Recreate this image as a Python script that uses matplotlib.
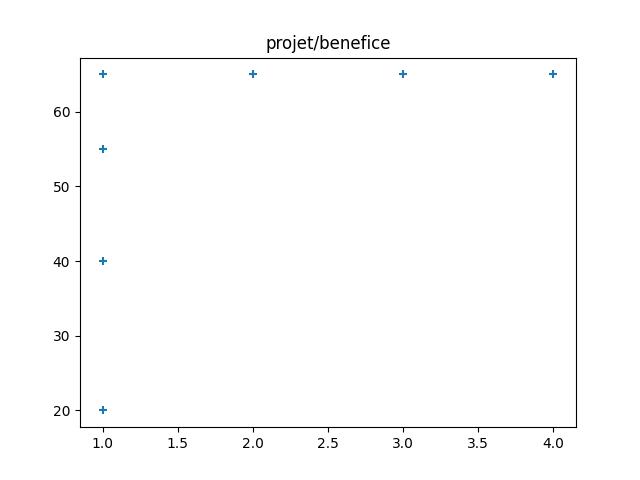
import matplotlib
matplotlib.use("Agg")
import matplotlib.pyplot as plt

projets = [1, 1, 1, 1, 2, 3, 4]
benefices = [20, 40, 55, 65, 65, 65, 65]

fig, ax = plt.subplots(figsize=(6.4, 4.8), dpi=100)
ax.scatter(projets, benefices, marker='+')
ax.set_title("projet/benefice")
fig.savefig("out.png")
